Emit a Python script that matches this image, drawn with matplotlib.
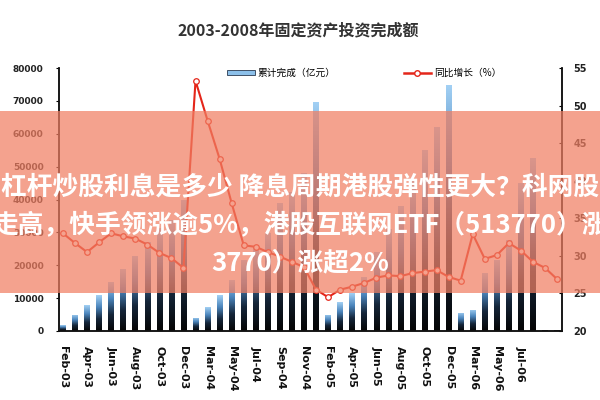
import numpy as np
import matplotlib
matplotlib.use('Agg')
import matplotlib.pyplot as plt
from matplotlib.colors import LinearSegmentedColormap
from matplotlib.patches import Patch, Rectangle
from matplotlib.lines import Line2D

plt.rcParams['font.family'] = ['Noto Sans CJK SC', 'DejaVu Sans']

title = '2003-2008年固定资产投资完成额'
bar_name = '累计完成（亿元）'
line_name = '同比增长（%）'
banner_lines = ['杠杆炒股利息是多少 降息周期港股弹性更大？科网股',
                '走高，快手领涨逾5%，港股互联网ETF（513770）涨',
                '3770）涨超2%']

# monthly cumulative investment (bars) and yoy growth (line)
totals = [1800, 4900, 7900, 10900, 14900, 18800, 22800, 27000, 31300, 33700, 40000,
          4000, 7300, 10900, 15500, 21600, 25500, 29800, 38900, 42300, 48000, 69600,
          4900, 8800, 11500, 16400, 24000, 31000, 38000, 46000, 55000, 62000, 74800,
          5500, 6400, 17600, 21600, 27600, 45000, 52600, 400, 400]
growth = [33.0, 31.7, 30.5, 31.8, 33.0, 32.6, 32.3, 31.5, 30.4, 29.7, 28.4,
          53.3, 48.0, 42.9, 37.0, 31.4, 31.2, 30.5, 29.9, 29.2, 28.5, 25.5,
          24.5, 25.5, 25.9, 26.4, 27.1, 27.4, 27.3, 27.7, 27.9, 28.1, 27.2,
          26.7, 32.9, 29.6, 30.1, 31.7, 30.7, 29.2, 28.4, 26.9]
xlabels = ['Feb-03', 'Apr-03', 'Jun-03', 'Aug-03', 'Oct-03', 'Dec-03',
           'Mar-04', 'May-04', 'Jul-04', 'Sep-04', 'Nov-04',
           'Feb-05', 'Apr-05', 'Jun-05', 'Aug-05', 'Oct-05', 'Dec-05',
           'Mar-06', 'May-06', 'Jul-06']

idx = np.arange(len(totals))

fig = plt.figure(figsize=(6, 4), dpi=100)
ax1 = fig.add_axes([0.0983, 0.1725, 0.8384, 0.6575])
ax2 = ax1.twinx()

cmap = LinearSegmentedColormap.from_list('barg', ['#050505', '#15263a', '#4a84bb', '#a2d0f4'])
grad = np.linspace(0, 1, 128).reshape(-1, 1)
w = 0.46
for x, v in zip(idx, totals):
    b = ax1.bar(x, v, width=w, color='none', edgecolor='none', zorder=2)[0]
    im = ax1.imshow(grad, extent=[x - w / 2, x + w / 2, 0, v], origin='lower',
                    cmap=cmap, aspect='auto', zorder=2)
    im.set_clip_path(b)

ax1.set_xlim(-0.33, 41.41)
ax1.set_ylim(0, 80000)
ax1.set_yticks(np.arange(0, 80001, 10000))
ax1.set_yticklabels([str(v) for v in range(0, 80001, 10000)])
ax1.set_xticks(idx[::2][:len(xlabels)])
ax1.set_xticklabels(xlabels, rotation=270, fontsize=8, fontweight='bold', color='#111111',
                    family='DejaVu Sans')
ax1.tick_params(axis='x', length=0, pad=11)
ax1.tick_params(axis='y', length=2, pad=9, labelsize=6.5, labelcolor='#222222')
for t in ax1.get_yticklabels():
    t.set_fontweight('bold')
    t.set_family('DejaVu Sans')

ax2.plot(idx, growth, color='#e4261a', lw=1.5, marker='o', ms=4,
         mfc='white', mec='#e4261a', mew=0.9, zorder=3)
ax2.set_ylim(20, 55)
ax2.set_yticks(range(20, 56, 5))
ax2.tick_params(axis='y', length=2, direction='in', pad=8, labelsize=7, labelcolor='#222222')
for t in ax2.get_yticklabels():
    t.set_fontweight('bold')
    t.set_family('DejaVu Sans')

for a in (ax1, ax2):
    a.spines['top'].set_visible(False)
    for s in ('left', 'right', 'bottom'):
        a.spines[s].set_color('#111111')
        a.spines[s].set_linewidth(1.1)

fig.text(0.497, 0.923, title, ha='center', va='center', fontsize=11.5,
         fontweight='bold', color='#333333')

handles = [Patch(facecolor='#8cc0ea', edgecolor='#2a3a50', lw=0.6),
           Line2D([0], [0], color='#e4261a', lw=1.8, marker='o', ms=4, mfc='white', mec='#e4261a')]
fig.legend(handles, [bar_name, line_name], ncol=2, frameon=False, loc='center',
           bbox_to_anchor=(0.607, 0.818), fontsize=7, columnspacing=7,
           handlelength=2.8, handleheight=0.5, handletextpad=0.3)

# salmon banner on top of the chart
fig.patches.append(Rectangle((0, 0.2675), 1, 0.455, transform=fig.transFigure,
                             facecolor='#f07e62', alpha=0.72, edgecolor='none', zorder=10))
for k, s in enumerate(banner_lines):
    fig.text(0.5, 0.532 - k * 0.095, s, ha='center', va='center', fontsize=18.5,
             fontweight='bold', color='white', zorder=11)

fig.savefig('out.png', dpi=100)
